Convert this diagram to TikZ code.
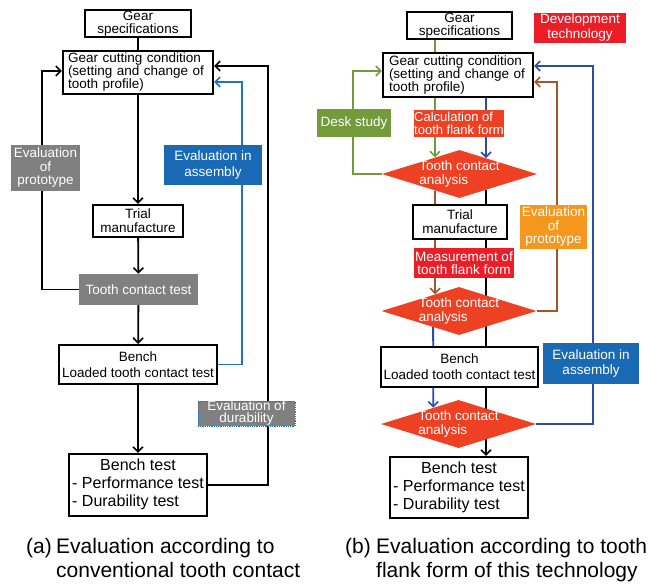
\documentclass[tikz,border=0pt]{standalone}
\usepackage{fontspec}
\setmainfont{Liberation Sans}
\usetikzlibrary{arrows.meta,shapes.geometric,calc}
\pgfdeclarelayer{bg}
\pgfsetlayers{bg,main}
\definecolor{grayfill}{RGB}{128,128,128}
\definecolor{bluefill}{RGB}{25,105,180}
\definecolor{blueline}{RGB}{30,115,195}
\definecolor{navyline}{RGB}{45,75,170}
\definecolor{greenc}{RGB}{115,155,60}
\definecolor{brownc}{RGB}{165,85,40}
\definecolor{orangec}{RGB}{245,150,30}
\definecolor{redlab}{RGB}{235,30,40}
\definecolor{redorange}{RGB}{238,65,35}
\newcommand{\fsA}{\fontsize{13.5}{13}\selectfont}
\newcommand{\fsAA}{\fontsize{13.5}{15.5}\selectfont}
\newcommand{\fsB}{\fontsize{16}{18}\selectfont}
\newcommand{\fsC}{\fontsize{21}{23.3}\selectfont}
\begin{document}
\begin{tikzpicture}[x=1pt,y=-1pt,
  box/.style={draw=black, line width=2.1pt, fill=white, inner sep=0pt, font=\fsA, align=center},
  lab/.style={inner sep=0pt, text=white, font=\fsA, align=center},
  dia/.style={diamond, fill=redorange, minimum width=155pt, minimum height=48pt, inner sep=0pt},
  dtxt/.style={text=white, font=\fontsize{13.5}{14}\selectfont, align=left, inner sep=0pt},
  plain/.style={line width=1.8pt},
  flow/.style={line width=1.8pt, -{Straight Barb[length=5pt,width=10pt,line width=1.6pt]}},
  captxt/.style={font=\fsC, inner sep=0pt, align=left, anchor=north west}]
\useasboundingbox (0,0) rectangle (665,584);
% ---------- panel (a) ----------
\node[box, minimum width=106pt, minimum height=27pt] (gs1) at (138,23.5) {Gear\\specifications};
\node[box, minimum width=150pt, minimum height=43pt, text width=140pt, align=left] (gc1) at (138,72.5) {Gear cutting condition\\(setting and change of\\tooth profile)};
\node[box, minimum width=90pt, minimum height=32pt, font=\fontsize{13.5}{14}\selectfont] (tm1) at (138,221) {Trial\\manufacture};
\node[lab, fill=grayfill, minimum width=119pt, minimum height=31pt] (tct1) at (138.5,289.5) {Tooth contact test};
\node[box, minimum width=158pt, minimum height=39pt, font=\fontsize{13.5}{16}\selectfont] (b1) at (138,364.5) {Bench\\Loaded tooth contact test};
\node[box, minimum width=138pt, minimum height=62pt, font=\fsB] (bt1) at (138,485) {\begin{tabular}{@{}l@{}}\multicolumn{1}{@{}c@{}}{Bench test}\\- Performance test\\- Durability test\end{tabular}};
\node[lab, fill=grayfill, minimum width=69pt, minimum height=46pt, font=\fontsize{13.5}{13.5}\selectfont] (ep1) at (45.5,168) {Evaluation\\of\\prototype};
\node[lab, fill=bluefill, minimum width=98pt, minimum height=40pt, font=\fsAA] (ea1) at (213,165) {Evaluation in\\assembly};
\node[lab, fill=grayfill, draw=blueline, densely dotted, line width=0.8pt, minimum width=97pt, minimum height=25pt, font=\fontsize{13.5}{12}\selectfont] (ed1) at (246.5,413.5) {Evaluation of\\durability};
\coordinate (la) at (42,71);
\coordinate (ra) at (242,82);
\coordinate (rb) at (268,66);
\begin{pgfonlayer}{bg}
\draw[plain] (gs1) -- (gc1);
\draw[flow] (gc1) -- (tm1);
\draw[flow] (tm1) -- (tct1);
\draw[flow] (tct1) -- (b1);
\draw[flow] (b1) -- (bt1);
\draw[flow] (tct1.west) -| (la) -- (la -| gc1.west);
\draw[flow, blueline] (b1.east) -| (ra) -- (ra -| gc1.east);
\draw[flow] (bt1.east) -| (rb) -- (rb -| gc1.east);
\end{pgfonlayer}
\node[captxt] (capa) at (26,538.5) {(a)};
\node[captxt] (capat) at (56,538.5) {Evaluation according to\\conventional tooth contact};
% ---------- panel (b) ----------
\node[box, minimum width=105pt, minimum height=27pt] (gs2) at (459.5,25.5) {Gear\\specifications};
\node[lab, fill=redlab, minimum width=92pt, minimum height=30pt, font=\fontsize{13.5}{15}\selectfont] (dev) at (580,28) {Development\\technology};
\node[box, minimum width=150pt, minimum height=44pt, text width=138pt, align=left] (gc2) at (458,75) {Gear cutting condition\\(setting and change of\\tooth profile)};
\node[lab, fill=redorange, minimum width=88pt, minimum height=27pt, align=left, font=\fontsize{13}{13}\selectfont] (calc) at (459,123.5) {Calculation of\\tooth flank form};
\node[dia, label={[dtxt]center:Tooth contact\\analysis}] (d1) at (459.5,174) {};
\node[box, minimum width=94pt, minimum height=34pt, font=\fontsize{13.5}{14}\selectfont] (tm2) at (460,222) {Trial\\manufacture};
\node[lab, fill=redlab, minimum width=100pt, minimum height=30pt] (meas) at (464,263) {Measurement of\\tooth flank form};
\node[dia, label={[dtxt]center:Tooth contact\\analysis}] (d2) at (459,311) {};
\node[lab, fill=orangec, minimum width=67pt, minimum height=44pt, font=\fontsize{13.5}{13.5}\selectfont] (ep2) at (553.5,227) {Evaluation\\of\\prototype};
\node[box, minimum width=157pt, minimum height=40pt, font=\fontsize{13.5}{16}\selectfont] (b2) at (459.5,367) {Bench\\Loaded tooth contact test};
\node[lab, fill=bluefill, minimum width=96pt, minimum height=41pt, font=\fsAA] (ea2) at (591,363.5) {Evaluation in\\assembly};
\node[dia, label={[dtxt]center:Tooth contact\\analysis}] (d3) at (458.5,424) {};
\node[box, minimum width=138pt, minimum height=61pt, font=\fsB] (bt2) at (459,487.5) {\begin{tabular}{@{}l@{}}\multicolumn{1}{@{}c@{}}{Bench test}\\- Performance test\\- Durability test\end{tabular}};
\node[lab, fill=greenc, minimum width=74pt, minimum height=28pt] (desk) at (354,123) {Desk study};
\coordinate (gx) at (435,0);
\coordinate (bx) at (486,0);
\coordinate (lg) at (353,71);
\coordinate (rbr) at (557,82);
\coordinate (rbl) at (593,66);
\begin{pgfonlayer}{bg}
\draw[plain, greenc] (gs2.south -| gx) -- (gc2.north -| gx);
\draw[flow, greenc] (gc2.south -| gx) -- ($(d1.north)!0.316!(d1.west)$);
\draw[flow, navyline] (gc2.south -| bx) -- ($(d1.north)!0.342!(d1.east)$);
\draw[flow] ($(d1.south)!0.342!(d1.east)$) -- (bt2.north -| bx);
\draw[flow, brownc] ($(d1.south)!0.316!(d1.west)$) -- ($(d2.north)!0.308!(d2.west)$);
\draw[flow, navyline] ($(d2.south)!0.333!(d2.west)$) -- ($(d3.north)!0.325!(d3.west)$);
\draw[flow, greenc] (d1.west) -| (lg) -- (lg -| gc2.west);
\draw[flow, brownc] (d2.east) -| (rbr) -- (rbr -| gc2.east);
\draw[flow, navyline] (d3.east) -| (rbl) -- (rbl -| gc2.east);
\end{pgfonlayer}
\node[captxt] (capb) at (345,538.5) {(b)};
\node[captxt] (capbt) at (376,538.5) {Evaluation according to tooth\\flank form of this technology};
\end{tikzpicture}
\end{document}
